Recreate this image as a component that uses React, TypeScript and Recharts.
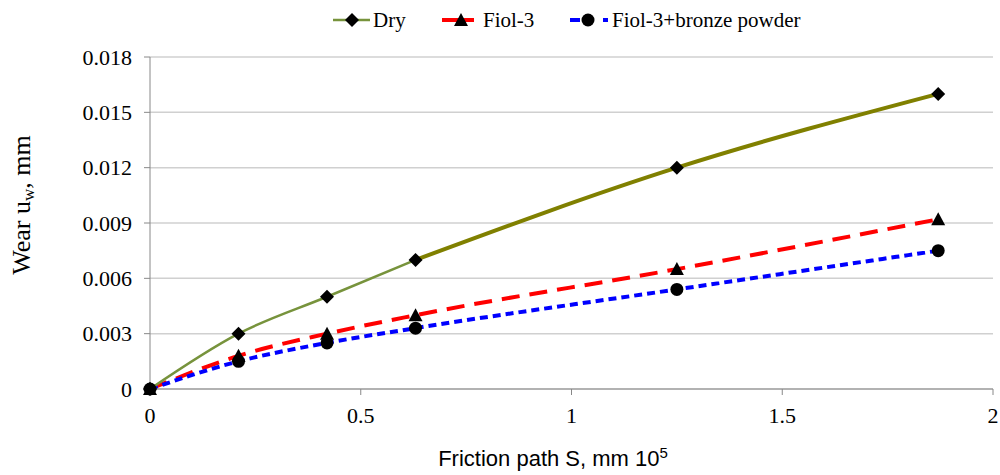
import { LineChart, Line, XAxis, YAxis, CartesianGrid } from 'recharts';

const frictionPath = [0, 0.21, 0.42, 0.63, 1.25, 1.87];
const dryWear = [0, 0.003, 0.005, 0.007, 0.012, 0.016];
const fiolWear = [0, 0.0018, 0.003, 0.004, 0.0065, 0.0092];
const bronzeWear = [0, 0.0015, 0.0025, 0.0033, 0.0054, 0.0075];

const xTicks = [0, 0.5, 1, 1.5, 2];
const yTicks = [0, 0.003, 0.006, 0.009, 0.012, 0.015, 0.018];

// the dry curve changes colour/width after the 4th point in the original
const splitIndex = 3;

const data = frictionPath.map((s, i) => ({
  s,
  dryA: i <= splitIndex ? dryWear[i] : undefined,
  dryB: i >= splitIndex ? dryWear[i] : undefined,
  fiol: fiolWear[i],
  bronze: bronzeWear[i],
}));

const serif = '"Liberation Serif", "Times New Roman", serif';
const sans = '"Liberation Sans", Arial, sans-serif';

const Diamond = ({ cx, cy }: { cx: number; cy: number }) => (
  <path d={`M${cx},${cy - 7} L${cx + 7},${cy} L${cx},${cy + 7} L${cx - 7},${cy} Z`} fill="#000" />
);
const Triangle = ({ cx, cy }: { cx: number; cy: number }) => (
  <path d={`M${cx},${cy - 7} L${cx + 7},${cy + 6} L${cx - 7},${cy + 6} Z`} fill="#000" />
);
const Circle = ({ cx, cy }: { cx: number; cy: number }) => <circle cx={cx} cy={cy} r={6.5} fill="#000" />;

function dryDotA(props: any) {
  const { cx, cy, index } = props;
  if (cx == null || cy == null || index > splitIndex) return <g key={`da${index}`} />;
  return <Diamond key={`da${index}`} cx={cx} cy={cy} />;
}
function dryDotB(props: any) {
  const { cx, cy, index } = props;
  if (cx == null || cy == null || index <= splitIndex) return <g key={`db${index}`} />;
  return <Diamond key={`db${index}`} cx={cx} cy={cy} />;
}
function fiolDot(props: any) {
  return <Triangle key={`f${props.index}`} cx={props.cx} cy={props.cy} />;
}
function bronzeDot(props: any) {
  return <Circle key={`b${props.index}`} cx={props.cx} cy={props.cy} />;
}

function LegendBar() {
  return (
    <svg width={1000} height={40} style={{ position: 'absolute', left: 0, top: 0 }}>
      <g fontFamily={serif} fontSize={21} fill="#000">
        <line x1={333} y1={20} x2={370} y2={20} stroke="#77933C" strokeWidth={2.5} />
        <Diamond cx={352} cy={20} />
        <text x={373} y={27}>Dry</text>
        <line x1={442} y1={20} x2={474} y2={20} stroke="#FF0000" strokeWidth={4} />
        <Triangle cx={461} cy={20} />
        <text x={483} y={27}>Fiol-3</text>
        <line x1={570} y1={20} x2={608} y2={20} stroke="#0000FF" strokeWidth={4} strokeDasharray="10 23 5" />
        <Circle cx={588} cy={20} />
        <text x={612} y={27}>Fiol-3+bronze powder</text>
      </g>
    </svg>
  );
}

export default function App() {
  return (
    <div style={{ position: 'absolute', left: 0, top: 0, width: 1000, height: 475, background: '#fff' }}>
      <LineChart width={1000} height={475} data={data} margin={{ top: 57, right: 7, left: 0, bottom: 0 }}>
        <CartesianGrid vertical={false} stroke="#d0d0d0" strokeWidth={1.5} />
        <XAxis
          dataKey="s"
          type="number"
          domain={[0, 2]}
          ticks={xTicks}
          tickFormatter={(v) => String(v)}
          stroke="#888"
          tickSize={6}
          height={86}
          tick={{ fontFamily: serif, fontSize: 22, fill: '#000', dy: 10 }}
          label={() => (
            <text x={553} y={466} textAnchor="middle" fontFamily={sans} fontSize={22} fill="#000">
              Friction path S, mm 10<tspan dy={-8} fontSize={15}>5</tspan>
            </text>
          )}
        />
        <YAxis
          type="number"
          domain={[0, 0.018]}
          ticks={yTicks}
          tickFormatter={(v) => (v === 0 ? '0' : v.toFixed(3))}
          stroke="#888"
          tickSize={6}
          width={150}
          tick={{ fontFamily: serif, fontSize: 22, fill: '#000', dx: -10 }}
          label={() => (
            <text
              x={24}
              y={205}
              transform="rotate(-90, 24, 205)"
              textAnchor="middle"
              dominantBaseline="middle"
              fontFamily={serif}
              fontSize={26}
              fill="#000"
            >
              Wear u<tspan dy={6} fontSize={17}>w</tspan><tspan dy={-6}>, mm</tspan>
            </text>
          )}
        />
        <Line
          type="monotone"
          dataKey="fiol"
          stroke="#FF0000"
          strokeWidth={4}
          strokeDasharray="18 10"
          dot={fiolDot}
          isAnimationActive={false}
        />
        <Line
          type="monotone"
          dataKey="bronze"
          stroke="#0000FF"
          strokeWidth={4}
          strokeDasharray="8 5"
          dot={bronzeDot}
          isAnimationActive={false}
        />
        <Line
          type="monotone"
          dataKey="dryA"
          stroke="#77933C"
          strokeWidth={2.5}
          dot={dryDotA}
          connectNulls={false}
          isAnimationActive={false}
        />
        <Line
          type="monotone"
          dataKey="dryB"
          stroke="#808000"
          strokeWidth={4}
          dot={dryDotB}
          connectNulls={false}
          isAnimationActive={false}
        />
      </LineChart>
      <LegendBar />
    </div>
  );
}
